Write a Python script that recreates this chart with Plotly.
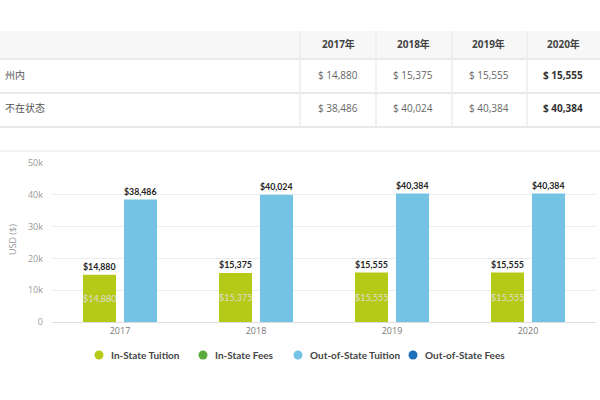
import plotly.graph_objects as go

# ---- data ----
years = ["2017", "2018", "2019", "2020"]
in_state_tuition = [14880, 15375, 15555, 15555]
out_state_tuition = [38486, 40024, 40384, 40384]
table_headers = ["2017年", "2018年", "2019年", "2020年"]
row_labels = ["州内", "不在状态"]
table_rows = [in_state_tuition, out_state_tuition]
legend_names = ["In-State Tuition", "In-State Fees", "Out-of-State Tuition", "Out-of-State Fees"]
legend_colors = ["#b5c919", "#5aab3c", "#74c3e4", "#1f6fba"]
y_ticks = [0, 10000, 20000, 30000, 40000, 50000]
y_ticklabels = ["0", "10k", "20k", "30k", "40k", "50k"]

W, H = 600, 400
def py(px):  # pixel y -> paper y
    return 1 - px / H
def pxx(px):
    return px / W

FONT = "Open Sans, Noto Sans CJK SC, sans-serif"
LABEL_FONT = "Lato, Open Sans, sans-serif"

fig = go.Figure()

fig.add_trace(go.Bar(
    x=years, y=in_state_tuition, name=legend_names[0],
    marker=dict(color=legend_colors[0], line=dict(width=0)),
    text=[f"${v:,}" for v in in_state_tuition], textposition="outside",
    textfont=dict(family=LABEL_FONT, size=11, color="#222222", weight="bold"),
    cliponaxis=False, showlegend=False, hoverinfo="skip",
))
fig.add_trace(go.Bar(
    x=years, y=out_state_tuition, name=legend_names[2],
    marker=dict(color=legend_colors[2], line=dict(width=0)),
    text=[f"${v:,}" for v in out_state_tuition], textposition="outside",
    textfont=dict(family=LABEL_FONT, size=11, color="#222222", weight="bold"),
    cliponaxis=False, showlegend=False, hoverinfo="skip",
))

annotations = []
shapes = []
# ghost inside labels on in-state bars (category index positions)
for i, v in enumerate(in_state_tuition):
    annotations.append(dict(
        x=i, y=v / 2, xref="x", yref="y", text=f"${v:,}", showarrow=False,
        xanchor="center", yanchor="middle",
        xshift=-20.5, font=dict(family=LABEL_FONT, size=9, color="#dcdfcc"),
    ))

# y axis title
annotations.append(dict(
    x=pxx(12), y=py(240), xref="paper", yref="paper", text="USD ($)", textangle=-90,
    xanchor="center", yanchor="middle",
    showarrow=False, font=dict(family=FONT, size=9, color="#999999"),
))

# ---- legend (drawn manually: circle + label) ----
legend_x = [99, 203, 298, 413]
legend_y = 355
for lx, name, col in zip(legend_x, legend_names, legend_colors):
    shapes.append(dict(type="circle", xref="paper", yref="paper",
                       xsizemode="pixel", ysizemode="pixel",
                       xanchor=pxx(lx), yanchor=py(legend_y),
                       x0=-4.5, x1=4.5, y0=-4.5, y1=4.5,
                       fillcolor=col, line=dict(width=0)))
    annotations.append(dict(
        x=pxx(lx + 10), y=py(legend_y), xref="paper", yref="paper", text=name,
        xanchor="left", yanchor="middle", showarrow=False,
        font=dict(family=LABEL_FONT, size=10, color="#444444", weight="bold"),
    ))

# ---- table ----
col_centers = [338, 413, 489, 563]
row_y = [75, 108]
header_y = 44
for cx, h in zip(col_centers, table_headers):
    annotations.append(dict(
        x=pxx(cx), y=py(header_y), xref="paper", yref="paper", text=f"<b>{h}</b>",
        xanchor="center", yanchor="middle",
        showarrow=False, font=dict(family=FONT, size=10, color="#444444"),
    ))
for ry, lab, vals in zip(row_y, row_labels, table_rows):
    annotations.append(dict(
        x=pxx(3), y=py(ry), xref="paper", yref="paper", text=lab,
        xanchor="left", yanchor="middle",
        showarrow=False, font=dict(family=FONT, size=10, color="#555555"),
    ))
    for i, (cx, v) in enumerate(zip(col_centers, vals)):
        t = f"$ {v:,}"
        if i == len(vals) - 1:
            t = f"<b>{t}</b>"
        annotations.append(dict(
            x=pxx(cx), y=py(ry), xref="paper", yref="paper", text=t,
            xanchor="center", yanchor="middle",
            showarrow=False, font=dict(family=FONT, size=10,
                                       color="#333333" if i == len(vals) - 1 else "#666666"),
        ))

shapes.append(dict(type="rect", xref="paper", yref="paper", x0=0, x1=1,
                   y0=py(59), y1=py(31), fillcolor="#f7f7f7", line=dict(width=0), layer="below"))
for ly in [59, 93, 127]:
    shapes.append(dict(type="line", xref="paper", yref="paper", x0=0, x1=1,
                       y0=py(ly), y1=py(ly), line=dict(color="#e9e9e9", width=2)))
for lx in [300, 376, 452, 527]:
    shapes.append(dict(type="line", xref="paper", yref="paper", x0=pxx(lx), x1=pxx(lx),
                       y0=py(31), y1=py(127), line=dict(color="#ededed", width=1.5)))
shapes.append(dict(type="line", xref="paper", yref="paper", x0=0, x1=1,
                   y0=py(151), y1=py(151), line=dict(color="#f0f0f0", width=1.5)))

fig.update_layout(
    width=W, height=H, margin=dict(l=0, r=0, t=0, b=0, autoexpand=False),
    paper_bgcolor="white", plot_bgcolor="white",
    barmode="group", bargap=0.397, bargroupgap=0.195,
    font=dict(family=FONT, color="#888888"),
    xaxis=dict(type="category", domain=[pxx(52), pxx(596)], range=[-0.5, 3.5],
               showgrid=False, showline=True,
               linecolor="#dddddd", linewidth=1, ticks="", automargin=False,
               tickfont=dict(size=9, color="#777777"), fixedrange=True),
    yaxis=dict(domain=[py(322), py(163)], range=[0, 50000], tickvals=y_ticks,
               ticktext=y_ticklabels, gridcolor="#ececec", gridwidth=1, zeroline=False,
               automargin=False, fixedrange=True,
               tickfont=dict(size=9, color="#999999"), ticklabelstandoff=8),
    annotations=annotations, shapes=shapes, showlegend=False,
)

fig.write_html("out.html", config={"displayModeBar": False},
               post_script="document.body.style.margin='0';")
